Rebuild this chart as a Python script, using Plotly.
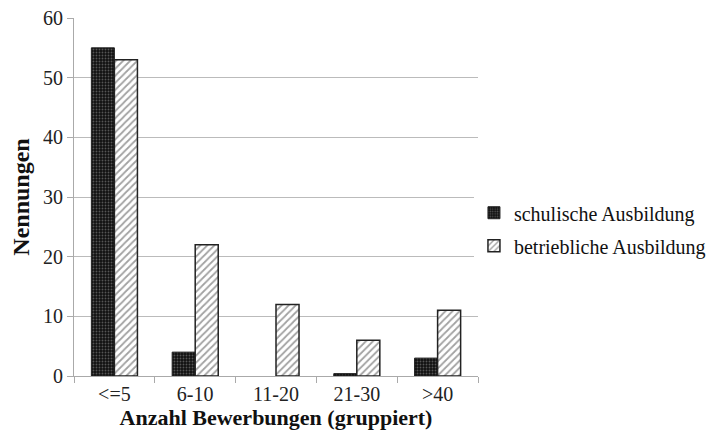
import plotly.graph_objects as go

categories = ["<=5", "6-10", "11-20", "21-30", ">40"]
schulisch = [55, 4, 0, 0.4, 3]
betrieblich = [53, 22, 12, 6, 11]
y_ticks = [0, 10, 20, 30, 40, 50, 60]

font_family = "Liberation Serif"

fig = go.Figure()
fig.add_trace(go.Bar(
    x=categories, y=schulisch, name="schulische Ausbildung", legendgroup="a",
    marker=dict(color="black", line=dict(color="#222", width=[1, 1, 0, 1, 1]),
                pattern=dict(shape=".", bgcolor="#111", fgcolor="#999", size=3, solidity=0.3)),
))
fig.add_trace(go.Bar(
    x=categories, y=betrieblich, name="betriebliche Ausbildung", legendgroup="b",
    marker=dict(color="white", line=dict(color="#222", width=1.5),
                pattern=dict(shape="/", bgcolor="white", fgcolor="#444", size=5, solidity=0.35)),
))

# The page body has an 8px default margin, so shift margins by 8px.
fig.update_layout(
    width=723, height=440,
    margin=dict(l=66, r=253, t=10, b=72, autoexpand=False),
    paper_bgcolor="white", plot_bgcolor="white",
    barmode="group", bargap=0.43, bargroupgap=0,
    font=dict(family=font_family, size=20, color="#111"),
    legend=dict(x=0.99, y=0.41, xanchor="left", yanchor="middle",
                font=dict(size=20, family=font_family, color="#111"), tracegroupgap=4,
                itemwidth=30),
    xaxis=dict(
        title=dict(text="<b>Anzahl Bewerbungen (gruppiert)</b>", font=dict(size=22, family=font_family), standoff=4),
        tickfont=dict(size=20, family=font_family, color="#222"),
        showline=True, linecolor="#aaa", linewidth=1,
        ticks="outside", tickson="boundaries", ticklen=6, tickcolor="#aaa",
        showgrid=False, automargin=False, ticklabeloverflow="allow",
    ),
    yaxis=dict(
        title=dict(text="<b>Nennungen</b>", font=dict(size=24, family=font_family), standoff=16),
        tickfont=dict(size=20, family=font_family, color="#222"),
        range=[0, 60], tickvals=y_ticks,
        showline=True, linecolor="#aaa", linewidth=1,
        ticks="outside", ticklen=6, tickcolor="#aaa",
        showgrid=True, gridcolor="#bbb", gridwidth=1,
        zeroline=False, automargin=False, ticklabeloverflow="allow",
    ),
)

fig.write_html("out.html")
